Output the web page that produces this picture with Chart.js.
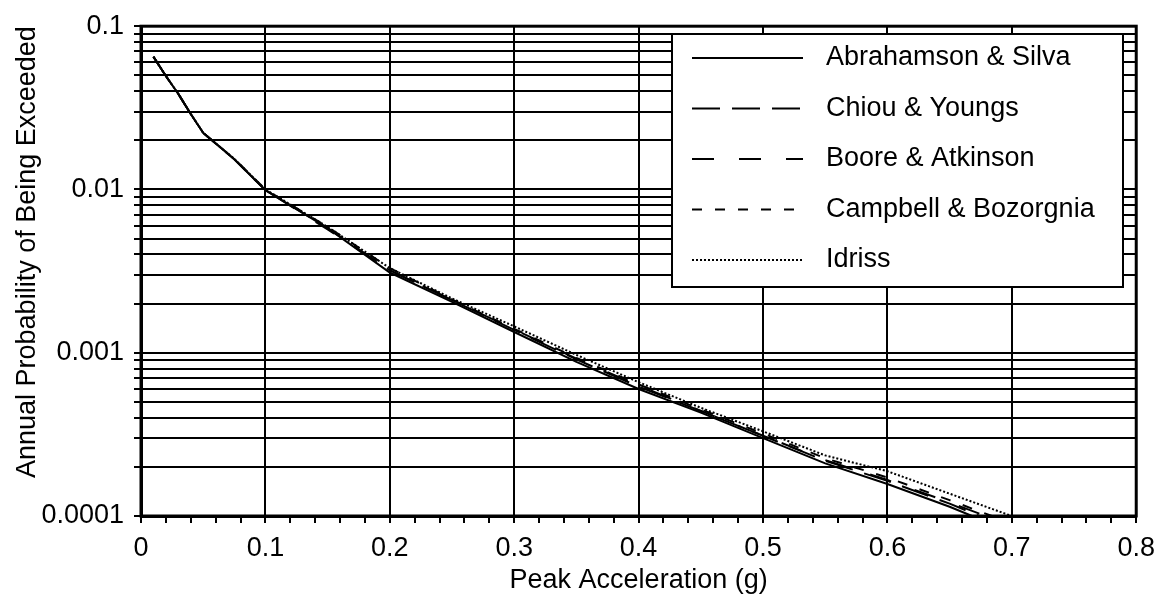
<!DOCTYPE html>
<html>
<head>
<meta charset="utf-8">
<script src="https://cdn.jsdelivr.net/npm/chart.js@4"></script>
<style>
  html, body { margin: 0; padding: 0; background: #fff; }
  #wrap { width: 1164px; height: 598px; }
</style>
</head>
<body>
<div id="wrap"><canvas id="hazardChart" width="1164" height="598"></canvas></div>
<script>
// Peak acceleration (g) where the curves are read
const pga = [0.01, 0.02, 0.03, 0.04, 0.05, 0.075, 0.1, 0.15, 0.2, 0.25, 0.3, 0.35, 0.4, 0.45, 0.5, 0.55, 0.6, 0.65];

// Annual probability of exceedance, one array per model
const abrahamsonSilva   = [0.065, 0.0495, 0.0385, 0.029, 0.0222, 0.0153, 0.0099, 0.0058, 0.0031, 0.00205, 0.00134, 0.00088, 0.00060, 0.00043, 0.00030, 0.00021, 0.000157, 0.000114];
const chiouYoungs       = [0.065, 0.0495, 0.0385, 0.029, 0.0222, 0.0153, 0.0099, 0.0058, 0.0032, 0.0021, 0.00138, 0.00091, 0.00062, 0.00044, 0.00031, 0.000218, 0.000164, 0.000119];
const booreAtkinson     = [0.065, 0.0495, 0.0385, 0.029, 0.0222, 0.0154, 0.0099, 0.0057, 0.0032, 0.0021, 0.00139, 0.00092, 0.00063, 0.00044, 0.00031, 0.00022, 0.000166, 0.000121];
const campbellBozorgnia = [0.065, 0.0495, 0.0385, 0.029, 0.0222, 0.0154, 0.0100, 0.0059, 0.0033, 0.00212, 0.0014, 0.00093, 0.00064, 0.00045, 0.00032, 0.000226, 0.000172, 0.000125];
const idriss            = [0.065, 0.0495, 0.0385, 0.029, 0.0222, 0.0154, 0.0100, 0.0059, 0.0033, 0.00215, 0.00145, 0.00097, 0.00066, 0.00046, 0.00033, 0.000235, 0.000188, 0.000137];

// acceleration at which each curve reaches 0.0001
const endPga = [0.668, 0.674, 0.679, 0.684, 0.70];
const endProb = 0.0001;

const seriesNames = ['Abrahamson & Silva', 'Chiou & Youngs', 'Boore & Atkinson', 'Campbell & Bozorgnia', 'Idriss'];

// tick labels
const xMajorTicks = [0, 0.1, 0.2, 0.3, 0.4, 0.5, 0.6, 0.7, 0.8];
const yMajorTicks = [0.0001, 0.001, 0.01, 0.1];
const yMajorLabels = ['0.0001', '0.001', '0.01', '0.1'];

const seriesValues = [abrahamsonSilva, chiouYoungs, booreAtkinson, campbellBozorgnia, idriss];
const dashes = [[], [28, 12], [22, 25], [10, 13], [2, 2]];

function buildPoints(values, k) {
    const pts = pga.map((x, i) => ({ x: x, y: values[i] }));
    pts.push({ x: endPga[k], y: endProb });
    return pts;
}

// minor ticks: 0.02 on x, 1..9 per decade on y
const xTicks = [];
for (let i = 0; i <= 40; i++) xTicks.push(Math.round(i * 2) / 100);
const yTicks = [];
for (let d = 0; d < yMajorTicks.length; d++) {
    const base = yMajorTicks[d];
    const top = d === yMajorTicks.length - 1 ? 1 : 9;
    for (let m = 1; m <= top; m++) yTicks.push(parseFloat((base * m).toPrecision(3)));
}

const isMajorX = v => xMajorTicks.some(t => Math.abs(t - v) < 1e-9);

const FONT = '"Liberation Sans", Arial, Helvetica, sans-serif';
Chart.defaults.font.family = FONT;
Chart.defaults.font.size = 27;
Chart.defaults.color = '#000';

// marco del área y leyenda dentro del gráfico
const frameAndLegend = {
    id: 'frameAndLegend',
    afterDraw(chart) {
        const ctx = chart.ctx;
        const a = chart.chartArea;
        ctx.save();
        ctx.strokeStyle = '#000';
        ctx.lineWidth = 3;
        ctx.setLineDash([]);
        ctx.strokeRect(a.left, a.top, a.right - a.left, a.bottom - a.top);

        // legend box
        const bx = 672, by = 34, bw = 451, bh = 253;
        ctx.fillStyle = '#fff';
        ctx.fillRect(bx, by, bw, bh);
        ctx.lineWidth = 2;
        ctx.strokeRect(bx, by, bw, bh);

        ctx.font = '27px ' + FONT;
        ctx.textBaseline = 'middle';
        ctx.textAlign = 'left';
        ctx.fillStyle = '#000';
        chart.data.datasets.forEach((ds, i) => {
            const y = 58 + i * 50.5;
            ctx.lineWidth = 2;
            ctx.setLineDash(ds.borderDash || []);
            ctx.beginPath();
            ctx.moveTo(692, y);
            ctx.lineTo(803, y);
            ctx.stroke();
            ctx.setLineDash([]);
            ctx.fillText(ds.label, 826, y);
        });
        ctx.restore();
    }
};

const ctx = document.getElementById('hazardChart').getContext('2d');
new Chart(ctx, {
    type: 'line',
    data: {
        datasets: seriesValues.map((vals, k) => ({
            label: seriesNames[k],
            data: buildPoints(vals, k),
            borderColor: '#000',
            borderWidth: 2,
            borderDash: dashes[k],
            pointRadius: 0,
            tension: 0,
            fill: false
        }))
    },
    options: {
        responsive: false,
        animation: false,
        layout: { padding: { top: 22, right: 27, left: 0, bottom: 0 } },
        plugins: {
            legend: { display: false },
            tooltip: { enabled: false }
        },
        scales: {
            x: {
                type: 'linear',
                min: 0,
                max: 0.8,
                afterBuildTicks: s => { s.ticks = xTicks.map(v => ({ value: v })); },
                afterFit: s => { s.height = 82; },
                ticks: {
                    autoSkip: false,
                    maxRotation: 0,
                    padding: 9,
                    callback: v => isMajorX(v) ? String(Math.round(v * 10) / 10) : ''
                },
                grid: {
                    color: c => (c.tick && isMajorX(c.tick.value)) ? '#000' : 'rgba(0,0,0,0)',
                    tickColor: '#000',
                    lineWidth: 2,
                    tickLength: 7
                },
                border: { color: '#000', width: 3 },
                title: {
                    display: true,
                    text: 'Peak Acceleration (g)',
                    padding: { top: 0, bottom: 1 }
                }
            },
            y: {
                type: 'logarithmic',
                min: 0.0001,
                max: 0.1,
                afterBuildTicks: s => { s.ticks = yTicks.map(v => ({ value: v })); },
                afterFit: s => { s.width = 141; },
                ticks: {
                    autoSkip: false,
                    padding: 10,
                    callback: v => {
                        const i = yMajorTicks.findIndex(t => Math.abs(t - v) / t < 1e-6);
                        return i >= 0 ? yMajorLabels[i] : '';
                    }
                },
                grid: {
                    color: '#000',
                    lineWidth: 2,
                    tickLength: 7
                },
                border: { color: '#000', width: 3 },
                title: {
                    display: true,
                    text: 'Annual Probability of Being Exceeded',
                    align: 'end',
                    padding: { top: 11, bottom: 0 }
                }
            }
        }
    },
    plugins: [frameAndLegend]
});
</script>
</body>
</html>
